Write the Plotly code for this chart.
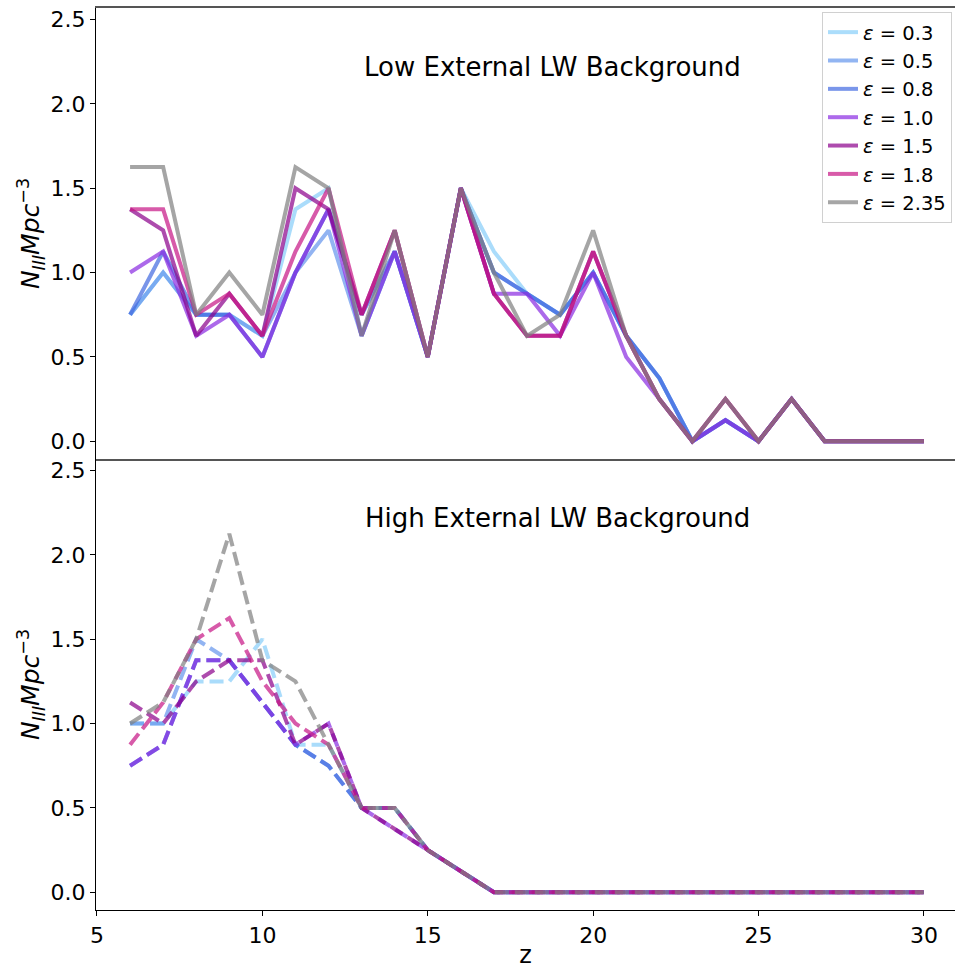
import plotly.graph_objects as go
from plotly.subplots import make_subplots

z = list(range(6, 31))
eps_labels = ["0.3", "0.5", "0.8", "1.0", "1.5", "1.8", "2.35"]
colors = ["lightskyblue", "cornflowerblue", "royalblue", "blueviolet",
          "darkmagenta", "mediumvioletred", "grey"]

# Low external LW background (z = 6..30)
low_03 = [0.75, 1.0, 0.75, 0.75, 0.625, 1.375, 1.5, 0.625, 1.125, 0.5, 1.5, 1.125, 0.875, 0.75, 1.0, 0.625, 0.375, 0, 0.125, 0, 0.25, 0, 0, 0, 0]
low_05 = [0.75, 1.0, 0.75, 0.75, 0.625, 1.0, 1.25, 0.625, 1.125, 0.5, 1.5, 1.0, 0.875, 0.75, 1.0, 0.625, 0.375, 0, 0.125, 0, 0.25, 0, 0, 0, 0]
low_08 = [0.75, 1.125, 0.75, 0.75, 0.5, 1.0, 1.375, 0.75, 1.125, 0.5, 1.5, 1.0, 0.875, 0.75, 1.0, 0.625, 0.375, 0, 0.125, 0, 0.25, 0, 0, 0, 0]
low_10 = [1.0, 1.125, 0.625, 0.75, 0.5, 1.0, 1.375, 0.625, 1.125, 0.5, 1.5, 0.875, 0.875, 0.625, 1.0, 0.5, 0.25, 0, 0.125, 0, 0.25, 0, 0, 0, 0]
low_15 = [1.375, 1.25, 0.625, 0.875, 0.625, 1.5, 1.375, 0.75, 1.25, 0.5, 1.5, 0.875, 0.625, 0.625, 1.125, 0.625, 0.25, 0, 0.25, 0, 0.25, 0, 0, 0, 0]
low_18 = [1.375, 1.375, 0.75, 0.875, 0.625, 1.125, 1.5, 0.75, 1.25, 0.5, 1.5, 0.875, 0.625, 0.625, 1.125, 0.625, 0.25, 0, 0.25, 0, 0.25, 0, 0, 0, 0]
low_235 = [1.625, 1.625, 0.75, 1.0, 0.75, 1.625, 1.5, 0.625, 1.25, 0.5, 1.5, 1.0, 0.625, 0.75, 1.25, 0.625, 0.25, 0, 0.25, 0, 0.25, 0, 0, 0, 0]

# High external LW background (z = 6..30)
zeros_tail = [0] * 14
high_03 = [1.0, 1.0, 1.25, 1.25, 1.5, 0.875, 0.875, 0.5, 0.5, 0.25, 0.125] + zeros_tail
high_05 = [1.0, 1.0, 1.5, 1.375, 1.125, 0.875, 0.75, 0.5, 0.5, 0.25, 0.125] + zeros_tail
high_08 = [0.75, 0.875, 1.375, 1.375, 1.125, 0.875, 0.75, 0.5, 0.5, 0.25, 0.125] + zeros_tail
high_10 = [0.75, 0.875, 1.375, 1.375, 1.125, 0.875, 1.0, 0.5, 0.375, 0.25, 0.125] + zeros_tail
high_15 = [1.125, 1.0, 1.25, 1.375, 1.375, 0.875, 1.0, 0.5, 0.375, 0.25, 0.125] + zeros_tail
high_18 = [0.875, 1.125, 1.5, 1.625, 1.25, 1.0, 0.875, 0.5, 0.5, 0.25, 0.125] + zeros_tail
high_235 = [1.0, 1.125, 1.5, 2.125, 1.375, 1.25, 0.875, 0.5, 0.5, 0.25, 0.125] + zeros_tail

low = [low_03, low_05, low_08, low_10, low_15, low_18, low_235]
high = [high_03, high_05, high_08, high_10, high_15, high_18, high_235]

x_ticks = [5, 10, 15, 20, 25, 30]
y_ticks = [0.0, 0.5, 1.0, 1.5, 2.0, 2.5]

FONT = "DejaVu Sans"

fig = make_subplots(rows=2, cols=1, shared_xaxes=True, vertical_spacing=0)

for lab, col, ys in zip(eps_labels, colors, low):
    fig.add_trace(go.Scatter(x=z, y=ys, mode="lines", name="<i>ε</i> = " + lab,
                             line=dict(color=col, width=4), opacity=0.7,
                             showlegend=True), row=1, col=1)
for lab, col, ys in zip(eps_labels, colors, high):
    fig.add_trace(go.Scatter(x=z, y=ys, mode="lines", name="<i>ε</i> = " + lab,
                             line=dict(color=col, width=4, dash="14px,6px"),
                             opacity=0.7, showlegend=False), row=2, col=1)

ytitle = "<i>N</i><sub><i>III</i></sub><i>Mpc</i><sup>−3</sup>"

fig.update_layout(
    width=955, height=969,
    margin=dict(l=96, r=0, t=8, b=59),
    paper_bgcolor="white", plot_bgcolor="white",
    font=dict(family=FONT, size=22, color="black"),
    legend=dict(x=0.9965, xanchor="right", y=0.9956, yanchor="top",
                bgcolor="white", bordercolor="#d0d0d0", borderwidth=1,
                font=dict(family=FONT, size=19.5, color="black")),
    annotations=[
        dict(text="Low External LW Background", x=0.532, y=0.9346, xref="paper", yref="paper",
             xanchor="center", yanchor="middle",
             showarrow=False, font=dict(family=FONT, size=26, color="black")),
        dict(text="High External LW Background", x=0.537, y=0.4346, xref="paper", yref="paper",
             xanchor="center", yanchor="middle",
             showarrow=False, font=dict(family=FONT, size=26, color="black")),
    ],
)

fig.update_xaxes(range=[4.97, 30.94], showgrid=False, zeroline=False)
fig.update_xaxes(row=1, col=1, showline=True, linecolor="#555555", linewidth=2, mirror=True,
                 ticks="", showticklabels=False)
fig.update_xaxes(row=2, col=1, showline=True, linecolor="black", linewidth=1.2,
                 ticks="outside", ticklen=5, tickwidth=1.2, tickcolor="black",
                 tickvals=x_ticks, ticktext=[str(v) for v in x_ticks],
                 title=dict(text="z", font=dict(family=FONT, size=24), standoff=5))
fig.update_yaxes(range=[-0.105, 2.568], showgrid=False, zeroline=False,
                 showline=True, linecolor="black", linewidth=1.2,
                 ticks="outside", ticklen=5, tickwidth=1.2, tickcolor="black",
                 tickvals=y_ticks, ticktext=["%.1f" % v for v in y_ticks],
                 title=dict(text=ytitle, font=dict(family=FONT, size=25), standoff=3))

fig.write_html("out.html", config={"displayModeBar": False},
               post_script="document.body.style.margin='0';")
